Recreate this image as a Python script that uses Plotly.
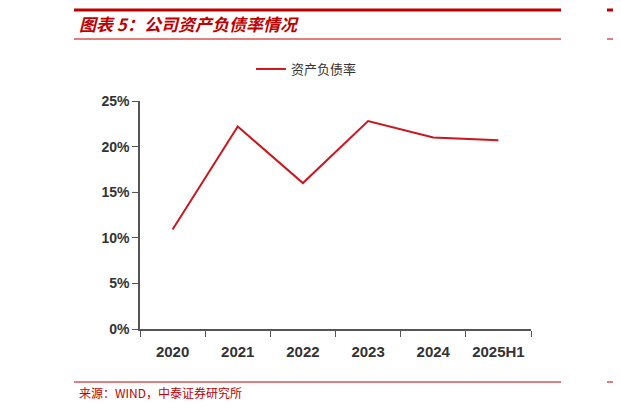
import plotly.graph_objects as go

categories = ["2020", "2021", "2022", "2023", "2024", "2025H1"]
values = [10.9, 22.2, 16.0, 22.8, 21.0, 20.7]
y_ticks = [0, 5, 10, 15, 20, 25]
y_labels = ["0%", "5%", "10%", "15%", "20%", "25%"]

W, H = 621, 410
DX, DY = 7, 7  # rendering offset compensation
L, R, T, B = 139 - DX, 91 + DX, 100 - DY, 82 + DY
red = "#C00000"
font = "Noto Sans CJK SC"

fig = go.Figure(go.Scatter(x=categories, y=values, mode="lines", name="资产负债率",
                           line=dict(color="#C8171E", width=2)))

def px(x): return (x - DX - L) / (W - L - R)
def py(y): return (H - B - (y - DY)) / (H - T - B)

shapes = []
for x0, x1 in [(73, 560), (606, 630)]:
    shapes += [
        dict(type="line", xref="paper", yref="paper", x0=px(x0), x1=px(x1), y0=py(9), y1=py(9), line=dict(color=red, width=3)),
        dict(type="line", xref="paper", yref="paper", x0=px(x0), x1=px(x1), y0=py(38), y1=py(38), line=dict(color=red, width=1)),
        dict(type="line", xref="paper", yref="paper", x0=px(x0), x1=px(x1), y0=py(381), y1=py(381), line=dict(color=red, width=1)),
    ]
annotations = [
    dict(text="<b><i>图表 5：公司资产负债率情况</i></b>", xref="paper", yref="paper", x=px(76), y=py(22),
         xanchor="left", yanchor="middle", showarrow=False, font=dict(color=red, size=17, family=font)),
    dict(text="来源：WIND，中泰证券研究所", xref="paper", yref="paper", x=px(76), y=py(391),
         xanchor="left", yanchor="middle", showarrow=False, font=dict(color=red, size=12, family=font)),
]

fig.update_layout(
    width=W, height=H, margin=dict(l=L, r=R, t=T, b=B),
    paper_bgcolor="white", plot_bgcolor="white",
    font=dict(family=font, color="#333333", size=13),
    shapes=shapes, annotations=annotations,
    showlegend=True,
    legend=dict(orientation="h", x=px(250), y=py(68), xanchor="left", yanchor="middle",
                font=dict(size=13, color="#333333", family=font)),
    xaxis=dict(type="category", range=[-0.5, 5.5], tickson="boundaries", ticks="outside", ticklen=6,
               tickcolor="#555555", ticklabelstandoff=8,
               showline=True, linecolor="#555555", linewidth=1.5, showgrid=False,
               tickfont=dict(size=15, family="Liberation Sans", color="#333333", weight="bold")),
    yaxis=dict(range=[0, 25], tickvals=y_ticks, ticktext=y_labels, ticks="outside", ticklen=6,
               tickcolor="#555555", showline=True, linecolor="#555555", linewidth=1.5, showgrid=False,
               zeroline=False, tickfont=dict(size=14, family="Liberation Sans", color="#333333", weight="bold")),
)
fig.write_html("out.html")
